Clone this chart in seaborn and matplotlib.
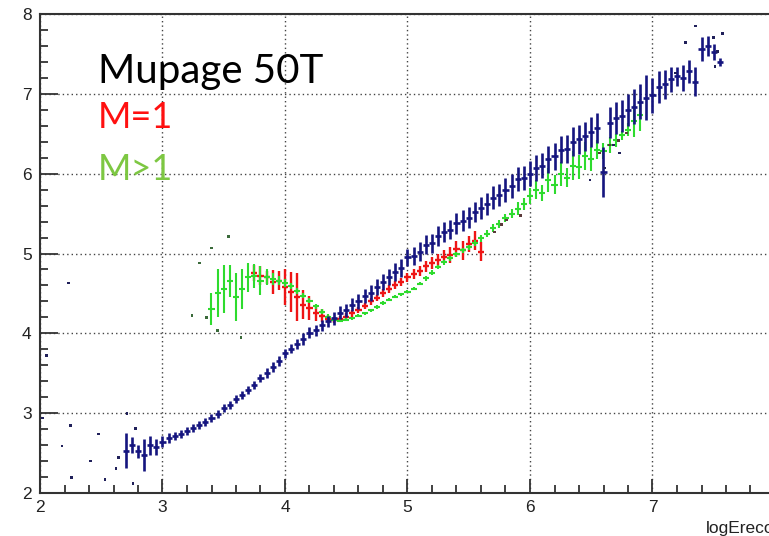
import numpy as np
import pandas as pd
import matplotlib
matplotlib.use("Agg")
import matplotlib.pyplot as plt
from matplotlib.ticker import MultipleLocator
import seaborn as sns

# ---------------- data ----------------
blue_x = [2.70, 2.75, 2.80, 2.85, 2.90, 2.95, 3.00, 3.05, 3.10, 3.15, 3.20, 3.25, 3.30, 3.35,
          3.40, 3.45, 3.50, 3.55, 3.60, 3.65, 3.70, 3.75, 3.80, 3.85, 3.90, 3.95, 4.00, 4.05,
          4.10, 4.15, 4.20, 4.25, 4.30, 4.35, 4.40, 4.45, 4.50, 4.55, 4.60, 4.65, 4.70, 4.75,
          4.80, 4.85, 4.90, 4.95, 5.00, 5.05, 5.10, 5.15, 5.20, 5.25, 5.30, 5.35, 5.40, 5.45,
          5.50, 5.55, 5.60, 5.65, 5.70, 5.75, 5.80, 5.85, 5.90, 5.95, 6.00, 6.05, 6.10, 6.15,
          6.20, 6.25, 6.30, 6.35, 6.40, 6.45, 6.50, 6.55, 6.60, 6.65, 6.70, 6.75, 6.80, 6.85,
          6.90, 6.95, 7.00, 7.05, 7.10, 7.15, 7.20, 7.25, 7.30, 7.35, 7.40, 7.45, 7.50, 7.55]
blue_y = [2.53, 2.60, 2.52, 2.48, 2.60, 2.58, 2.64, 2.69, 2.71, 2.74, 2.78, 2.81, 2.85, 2.89,
          2.94, 2.99, 3.06, 3.10, 3.18, 3.23, 3.29, 3.35, 3.44, 3.50, 3.58, 3.65, 3.75, 3.81,
          3.87, 3.93, 4.01, 4.04, 4.10, 4.15, 4.19, 4.26, 4.29, 4.36, 4.40, 4.47, 4.50, 4.58,
          4.64, 4.70, 4.77, 4.82, 4.95, 4.97, 5.02, 5.11, 5.13, 5.22, 5.27, 5.30, 5.38, 5.41,
          5.45, 5.52, 5.57, 5.62, 5.70, 5.73, 5.80, 5.85, 5.93, 5.95, 6.00, 6.07, 6.10, 6.18,
          6.22, 6.30, 6.31, 6.40, 6.43, 6.47, 6.52, 6.57, 6.02, 6.64, 6.70, 6.72, 6.80, 6.84,
          6.90, 6.95, 6.98, 7.08, 7.12, 7.18, 7.22, 7.20, 7.28, 7.15, 7.56, 7.60, 7.52, 7.40]
blue_err = [0.22, 0.10, 0.08, 0.20, 0.12, 0.10, 0.07, 0.06, 0.05, 0.05, 0.05, 0.05, 0.05, 0.05,
            0.05, 0.05, 0.05, 0.05, 0.05, 0.05, 0.05, 0.05, 0.05, 0.06, 0.06, 0.06, 0.06, 0.06,
            0.06, 0.07, 0.07, 0.07, 0.07, 0.07, 0.08, 0.08, 0.08, 0.08, 0.09, 0.09, 0.10, 0.10,
            0.10, 0.10, 0.11, 0.11, 0.11, 0.11, 0.12, 0.12, 0.12, 0.12, 0.12, 0.12, 0.13, 0.13,
            0.13, 0.13, 0.14, 0.14, 0.14, 0.14, 0.15, 0.15, 0.15, 0.15, 0.16, 0.16, 0.16, 0.17,
            0.17, 0.17, 0.18, 0.18, 0.18, 0.18, 0.19, 0.19, 0.31, 0.19, 0.20, 0.20, 0.20, 0.22,
            0.22, 0.28, 0.22, 0.20, 0.18, 0.16, 0.12, 0.16, 0.14, 0.18, 0.15, 0.12, 0.10, 0.05]

red_x = [3.75, 3.80, 3.85, 3.90, 3.95, 4.00, 4.05, 4.10, 4.15, 4.20, 4.25, 4.30, 4.35, 4.40,
         4.45, 4.50, 4.55, 4.60, 4.65, 4.70, 4.75, 4.80, 4.85, 4.90, 4.95, 5.00, 5.05, 5.10,
         5.15, 5.20, 5.25, 5.30, 5.35, 5.40, 5.45, 5.50, 5.55, 5.60]
red_y = [4.76, 4.72, 4.70, 4.64, 4.66, 4.58, 4.52, 4.46, 4.36, 4.32, 4.26, 4.22, 4.18, 4.17,
         4.18, 4.21, 4.25, 4.29, 4.34, 4.40, 4.44, 4.50, 4.55, 4.60, 4.64, 4.70, 4.74, 4.78,
         4.84, 4.88, 4.92, 4.96, 4.98, 5.06, 5.04, 5.12, 5.16, 5.02]
red_err = [0.10, 0.12, 0.08, 0.15, 0.12, 0.22, 0.25, 0.30, 0.18, 0.15, 0.10, 0.08, 0.05, 0.04,
           0.04, 0.04, 0.04, 0.04, 0.04, 0.04, 0.04, 0.05, 0.05, 0.05, 0.05, 0.06, 0.06, 0.06,
           0.07, 0.07, 0.08, 0.08, 0.10, 0.10, 0.12, 0.10, 0.12, 0.12]

green_x = [3.40, 3.45, 3.50, 3.55, 3.60, 3.65, 3.70, 3.75, 3.80, 3.85, 3.90, 3.95, 4.00, 4.05,
           4.10, 4.15, 4.20, 4.25, 4.30, 4.35, 4.40, 4.45, 4.50, 4.55, 4.60, 4.65, 4.70, 4.75,
           4.80, 4.85, 4.90, 4.95, 5.00, 5.05, 5.10, 5.15, 5.20, 5.25, 5.30, 5.35, 5.40, 5.45,
           5.50, 5.55, 5.60, 5.65, 5.70, 5.75, 5.80, 5.85, 5.90, 5.95, 6.00, 6.05, 6.10, 6.15,
           6.20, 6.25, 6.30, 6.35, 6.40, 6.45, 6.50, 6.55, 6.60, 6.65, 6.70, 6.75, 6.80, 6.85,
           6.90]
green_y = [4.30, 4.50, 4.55, 4.65, 4.45, 4.55, 4.70, 4.72, 4.66, 4.70, 4.68, 4.66, 4.63, 4.59,
           4.53, 4.47, 4.41, 4.34, 4.27, 4.21, 4.17, 4.16, 4.17, 4.19, 4.22, 4.25, 4.29, 4.33,
           4.38, 4.42, 4.46, 4.49, 4.52, 4.56, 4.62, 4.69, 4.76, 4.83, 4.89, 4.94, 4.99, 5.04,
           5.08, 5.13, 5.19, 5.25, 5.32, 5.37, 5.44, 5.50, 5.56, 5.62, 5.72, 5.80, 5.76, 5.92,
           5.86, 6.00, 5.95, 6.10, 6.08, 6.22, 6.18, 6.30, 6.28, 6.36, 6.42, 6.48, 6.55, 6.66,
           6.74]
green_err = [0.20, 0.30, 0.30, 0.20, 0.30, 0.25, 0.18, 0.15, 0.18, 0.10, 0.08, 0.06, 0.05, 0.04,
             0.04, 0.03, 0.03, 0.03, 0.03, 0.03, 0.02, 0.02, 0.02, 0.02, 0.02, 0.02, 0.02, 0.02,
             0.02, 0.02, 0.02, 0.02, 0.02, 0.02, 0.02, 0.03, 0.03, 0.03, 0.03, 0.03, 0.03, 0.03,
             0.03, 0.04, 0.04, 0.04, 0.05, 0.05, 0.05, 0.06, 0.08, 0.08, 0.10, 0.12, 0.10, 0.15,
             0.12, 0.15, 0.12, 0.18, 0.15, 0.18, 0.15, 0.12, 0.10, 0.10, 0.08, 0.06, 0.08, 0.20,
             0.20]

# isolated entries (bins with a single event)
stray_blue_x = [2.02, 2.05, 2.18, 2.23, 2.25, 2.26, 2.41, 2.48, 2.53, 2.62, 2.64, 2.71, 2.76, 2.78,
                6.49, 6.61, 6.68, 6.73, 7.19, 7.27, 7.35, 7.50, 7.51, 7.53, 7.57]
stray_blue_y = [2.94, 3.72, 2.59, 4.63, 2.85, 2.19, 2.40, 2.74, 2.17, 2.31, 2.44, 3.00, 2.12, 2.81,
                5.92, 6.07, 6.36, 6.26, 7.26, 7.64, 7.85, 7.71, 7.34, 7.53, 7.76]
stray_green_x = [3.24, 3.30, 3.36, 3.40, 3.45, 3.54, 3.64]
stray_green_y = [4.22, 4.88, 4.20, 5.07, 4.04, 5.21, 3.95]
stray_red_x = [5.71, 5.77, 5.81, 5.92, 6.57, 6.65, 6.72, 6.79]
stray_red_y = [5.27, 5.36, 5.42, 5.48, 6.26, 6.36, 6.42, 6.51]

bin_half = 0.025
x_ticks = [2, 3, 4, 5, 6, 7, 8]
y_ticks = [2, 3, 4, 5, 6, 7, 8]

BLUE = "#15157f"
RED = "#ee1515"
GREEN = "#2edb2e"

# ---------------- figure ----------------
sns.set_style("white")
plt.rcParams["font.family"] = ["Liberation Sans", "DejaVu Sans"]
plt.rcParams.update({
    "xtick.bottom": True, "xtick.top": False, "ytick.left": True, "ytick.right": False,
    "xtick.direction": "in", "ytick.direction": "in",
    "xtick.major.size": 10, "xtick.minor.size": 6,
    "ytick.major.size": 13, "ytick.minor.size": 6,
    "xtick.major.width": 1.3, "xtick.minor.width": 1.3,
    "ytick.major.width": 1.3, "ytick.minor.width": 1.3,
    "xtick.color": "#333333", "ytick.color": "#333333",
    "xtick.labelcolor": "#222222", "ytick.labelcolor": "#222222",
})

fig = plt.figure(figsize=(7.69, 5.36), dpi=100)
ax = fig.add_axes([40 / 769, 43 / 536, 735 / 769, 479 / 536])

df_b = pd.DataFrame({"x": blue_x, "y": blue_y, "e": blue_err})
df_r = pd.DataFrame({"x": red_x, "y": red_y, "e": red_err})
df_g = pd.DataFrame({"x": green_x, "y": green_y, "e": green_err})

for df, col, lw in [(df_r, RED, 1.7), (df_g, GREEN, 1.5), (df_b, BLUE, 1.9)]:
    ax.errorbar(df["x"], df["y"], yerr=df["e"], xerr=bin_half, fmt="none",
                ecolor=col, elinewidth=lw, capsize=0, zorder=3)

strays = pd.DataFrame({
    "x": stray_blue_x + stray_green_x + stray_red_x,
    "y": stray_blue_y + stray_green_y + stray_red_y,
    "c": ["b"] * len(stray_blue_x) + ["g"] * len(stray_green_x) + ["r"] * len(stray_red_x),
})
sns.scatterplot(data=strays, x="x", y="y", hue="c",
                palette={"b": "#20205a", "g": "#3a6a3a", "r": "#5a3a3a"},
                marker="s", s=4, linewidth=0, legend=False, ax=ax, zorder=4)

ax.set_xlim(2, 8)
ax.set_ylim(2, 8)
ax.set_xticks(x_ticks)
ax.set_yticks(y_ticks)
ax.xaxis.set_minor_locator(MultipleLocator(0.2))
ax.yaxis.set_minor_locator(MultipleLocator(0.2))
ax.set_xlabel("")
ax.set_ylabel("")

ax.grid(True, which="major", color="#444444", linestyle=(0, (1, 2.2)), linewidth=1.0, zorder=1)

for s in ["left", "bottom", "top", "right"]:
    ax.spines[s].set_color("#333333")
    ax.spines[s].set_linewidth(1.5)

ax.tick_params(axis="x", which="both", bottom=True, top=False, direction="in")
ax.tick_params(axis="y", which="both", left=True, right=False, direction="in")
ax.tick_params(axis="x", which="major", length=10, width=1.3, labelsize=12.5, pad=5)
ax.tick_params(axis="x", which="minor", length=6, width=1.3)
ax.tick_params(axis="y", which="major", length=13, width=1.3, labelsize=12.5, pad=6)
ax.tick_params(axis="y", which="minor", length=6, width=1.3)

ax.text(1.0, -0.058, "logEreco", transform=ax.transAxes, ha="right", va="top",
        fontsize=12.5, color="#222222")

fig.text(98 / 769, 1 - 83 / 536, "Mupage 50T", fontsize=29, family=["Lato", "DejaVu Sans"],
         color="black", va="baseline", ha="left")
fig.text(98 / 769, 1 - 128 / 536, "M=1", fontsize=26, family=["Lato", "DejaVu Sans"],
         color="#ff1010", va="baseline", ha="left")
fig.text(98 / 769, 1 - 180 / 536, "M>1", fontsize=26, family=["Lato", "DejaVu Sans"],
         color="#7dc742", va="baseline", ha="left")

fig.savefig("out.png", dpi=100)
